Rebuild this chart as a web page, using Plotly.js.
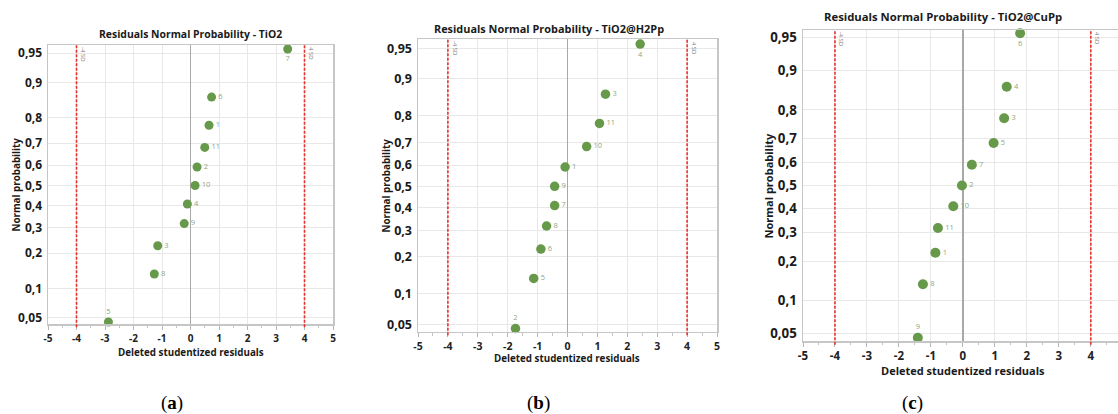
<!DOCTYPE html>
<html>
<head>
<meta charset="utf-8">
<script src="https://cdn.plot.ly/plotly-3.0.1.min.js"></script>
<style>html,body{margin:0;padding:0;background:#fff;}#chart{width:1118px;height:414px;}</style>
</head>
<body>
<div id="chart"></div>
<script>
// ---- data ----
const probs = [0.045, 0.136, 0.227, 0.318, 0.409, 0.5, 0.591, 0.682, 0.773, 0.864, 0.955];

const tioX = [-2.88, -1.27, -1.15, -0.22, -0.11, 0.16, 0.23, 0.50, 0.65, 0.74, 3.41];
const tioLabels = ['5', '8', '3', '9', '4', '10', '2', '11', '1', '6', '7'];

const h2X = [-1.74, -1.13, -0.89, -0.70, -0.43, -0.43, -0.08, 0.64, 1.07, 1.27, 2.43];
const h2Labels = ['2', '5', '6', '8', '7', '9', '1', '10', '11', '3', '4'];

const cuX = [-1.41, -1.25, -0.86, -0.78, -0.30, -0.03, 0.28, 0.96, 1.29, 1.37, 1.79];
const cuLabels = ['9', '8', '1', '11', '10', '2', '7', '5', '3', '4', '6'];

const panelTitles = ['Residuals Normal Probability - TiO2', 'Residuals Normal Probability - TiO2@H2Pp', 'Residuals Normal Probability - TiO2@CuPp'];
const panelLetters = ['a', 'b', 'c'];
const yTickProbs = [0.05, 0.1, 0.2, 0.3, 0.4, 0.5, 0.6, 0.7, 0.8, 0.9, 0.95];
const yTickLabels = ['0,05', '0,1', '0,2', '0,3', '0,4', '0,5', '0,6', '0,7', '0,8', '0,9', '0,95'];
const xTicks = [-5, -4, -3, -2, -1, 0, 1, 2, 3, 4, 5];
const sdLimits = [-4, 4];
const sdLabels = ['-4 SD', '4 SD'];

// inverse normal CDF (Acklam) for the normal-probability axis
function probit(p) {
  const a = [-3.969683028665376e+01, 2.209460984245205e+02, -2.759285104469687e+02, 1.383577518672690e+02, -3.066479806614716e+01, 2.506628277459239e+00];
  const b = [-5.447609879822406e+01, 1.615858368580409e+02, -1.556989798598866e+02, 6.680131188771972e+01, -1.328068155288572e+01];
  const c = [-7.784894002430293e-03, -3.223964580411365e-01, -2.400758277161838e+00, -2.549732539343734e+00, 4.374664141464968e+00, 2.938163982698783e+00];
  const d = [7.784695709041462e-03, 3.224671290700398e-01, 2.445134137142996e+00, 3.754408661907416e+00];
  const pl = 0.02425, ph = 1 - pl;
  let q, r;
  if (p < pl) {
    q = Math.sqrt(-2 * Math.log(p));
    return (((((c[0]*q+c[1])*q+c[2])*q+c[3])*q+c[4])*q+c[5]) / ((((d[0]*q+d[1])*q+d[2])*q+d[3])*q+1);
  } else if (p <= ph) {
    q = p - 0.5; r = q*q;
    return (((((a[0]*r+a[1])*r+a[2])*r+a[3])*r+a[4])*r+a[5])*q / (((((b[0]*r+b[1])*r+b[2])*r+b[3])*r+b[4])*r+1);
  } else {
    q = Math.sqrt(-2 * Math.log(1 - p));
    return -(((((c[0]*q+c[1])*q+c[2])*q+c[3])*q+c[4])*q+c[5]) / ((((d[0]*q+d[1])*q+d[2])*q+d[3])*q+1);
  }
}

const W = 1118, H = 414;
const px = v => v / W;
const py = v => 1 - v / H;

// panel geometry (pixels)
const panels = [
  {xs: tioX, labels: tioLabels, left: 48, right: 333, top: 45, bottom: 324, xr: [-5, 5], yr: [-1.72, 1.745],
   tick: 12, xtick: 10, axt: 9.8, ttl: 10.4, titleX: 190, titleY: 34, yTitleX: 16, xTitleX: 190.5, xTitleY: 352, letterX: 172, ms: 9, mirrorY: true},
  {xs: h2X, labels: h2Labels, left: 418, right: 717, top: 39.3, bottom: 331.7, xr: [-5, 5], yr: [-1.733, 1.752],
   tick: 12.5, xtick: 10.5, axt: 9.8, ttl: 10.9, titleX: 549, titleY: 29, yTitleX: 386, xTitleX: 567, xTitleY: 358, letterX: 538, ms: 9.5, mirrorY: true},
  {xs: cuX, labels: cuLabels, left: 803, right: 1118, top: 30, bottom: 341, xr: [-5, 4.85], yr: [-1.731, 1.731],
   tick: 13.3, xtick: 11.5, axt: 11, ttl: 11.3, titleX: 943, titleY: 17, yTitleX: 768, xTitleX: 963, xTitleY: 370, letterX: 912, ms: 10, mirrorY: false}
];

const FONT = 'Open Sans, Noto Sans, sans-serif';
const green = '#67994a';
const data = [];
const layout = {
  width: W, height: H,
  margin: {l: 0, r: 0, t: 0, b: 0},
  paper_bgcolor: '#ffffff', plot_bgcolor: '#ffffff',
  showlegend: false,
  annotations: [], shapes: []
};

panels.forEach((p, i) => {
  const n = i === 0 ? '' : String(i + 1);
  const xa = 'x' + n, ya = 'y' + n;
  const last = probs.length - 1;
  data.push({
    type: 'scatter', mode: 'markers+text',
    x: p.xs, y: probs.map(probit),
    text: p.labels,
    textposition: p.labels.map((_, k) => k === 0 ? 'top center' : (k === last ? 'bottom center' : 'middle right')),
    textfont: {family: FONT, size: 7.5, color: '#8fa680'},
    marker: {color: green, size: p.ms, line: {width: 0}},
    xaxis: xa, yaxis: ya, cliponaxis: false, hoverinfo: 'skip'
  });
  layout['xaxis' + n] = {
    domain: [px(p.left), Math.min(1, px(p.right))],
    anchor: ya, range: p.xr,
    tickvals: xTicks, ticktext: xTicks.map(String),
    ticks: 'outside', ticklen: 4, tickcolor: '#b5b5b5', tickwidth: 1,
    minor: {ticks: 'outside', ticklen: 2.5, dtick: 0.5, tickcolor: '#c4c4c4', showgrid: false},
    showgrid: true, gridcolor: '#e8e8e8', gridwidth: 1,
    zeroline: true, zerolinecolor: '#a8a8a8', zerolinewidth: 1.5,
    showline: true, linecolor: '#c6c6c6', linewidth: 1.5, mirror: true,
    tickfont: {family: FONT, size: p.xtick, color: '#222222', weight: 'bold'},
    fixedrange: true
  };
  layout['yaxis' + n] = {
    domain: [py(p.bottom), py(p.top)],
    anchor: xa, range: p.yr,
    tickvals: yTickProbs.map(probit), ticktext: yTickLabels,
    ticks: '', showgrid: true, gridcolor: '#e8e8e8', gridwidth: 1,
    zeroline: false,
    showline: true, linecolor: '#c6c6c6', linewidth: 1.5, mirror: p.mirrorY,
    tickfont: {family: FONT, size: p.tick, color: '#1a1a1a', weight: 'bold'},
    ticklabelstandoff: 2,
    fixedrange: true
  };
  // ±4 SD limits
  sdLimits.forEach((v, k) => {
    layout.shapes.push({
      type: 'line', xref: xa, yref: ya + ' domain', x0: v, x1: v, y0: -0.012, y1: 1,
      line: {color: '#e8322e', width: 1.6, dash: '3px,1.5px'}
    });
    layout.annotations.push({
      xref: xa, yref: ya + ' domain', x: v, y: 1, xanchor: 'left', yanchor: 'top', xshift: 1,
      text: sdLabels[k], textangle: 90, showarrow: false,
      font: {family: FONT, size: 6, color: '#7a7a7a'}
    });
  });
  // panel title
  layout.annotations.push({
    xref: 'paper', yref: 'paper', x: px(p.titleX), y: py(p.titleY), xanchor: 'center', yanchor: 'middle',
    text: panelTitles[i], showarrow: false,
    font: {family: FONT, size: p.ttl, color: '#1a1a1a', weight: 'bold'}
  });
  // y axis title
  layout.annotations.push({
    xref: 'paper', yref: 'paper', x: px(p.yTitleX), y: py((p.top + p.bottom) / 2), xanchor: 'center', yanchor: 'middle',
    text: 'Normal probability', textangle: -90, showarrow: false,
    font: {family: FONT, size: p.axt, color: '#1a1a1a', weight: 'bold'}
  });
  // x axis title
  layout.annotations.push({
    xref: 'paper', yref: 'paper', x: px(p.xTitleX), y: py(p.xTitleY), xanchor: 'center', yanchor: 'middle',
    text: 'Deleted studentized residuals', showarrow: false,
    font: {family: FONT, size: p.axt, color: '#1a1a1a', weight: 'bold'}
  });
  // panel letter
  layout.annotations.push({
    xref: 'paper', yref: 'paper', x: px(p.letterX), y: py(403), xanchor: 'center', yanchor: 'middle',
    text: '(<b>' + panelLetters[i] + '</b>)', showarrow: false,
    font: {family: 'Liberation Serif, DejaVu Serif, serif', size: 19, color: '#000000'}
  });
});

Plotly.newPlot('chart', data, layout, {staticPlot: true, displayModeBar: false});
</script>
</body>
</html>
